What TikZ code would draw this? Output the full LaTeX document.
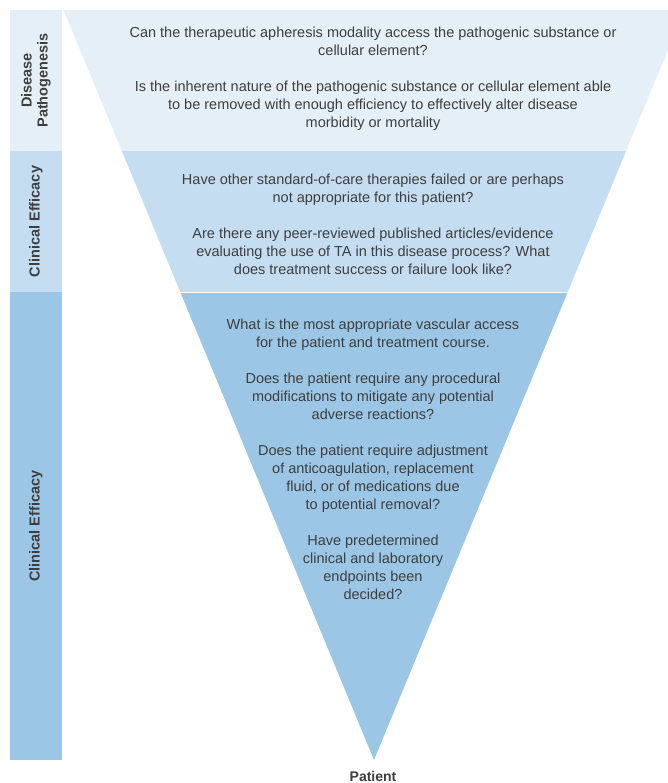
\documentclass[tikz,border=0pt]{standalone}
\usepackage{fontspec}
\setmainfont{Liberation Sans}

\definecolor{bandPathoFill}{RGB}{228,239,248}
\definecolor{bandClinFill}{RGB}{197,221,240}
\definecolor{bandPatientFill}{RGB}{155,198,229}
\definecolor{textGray}{RGB}{62,62,62}

\def \pageW{668}
\def \pageH{783}
\def \barLeft{10}
\def \barRight{62}
\def \barCenterX{36}
\def \topY{10}
\def \bandABottomY{151}
\def \bandBBottomY{292}
\def \apexX{374}
\def \apexY{760}
\def \funnelSlope{0.414}
\def \textCenterX{373}

\tikzset{
  question/.style={font=\fontsize{14.5bp}{18bp}\selectfont, text=textGray, align=center, inner sep=0pt},
  sidelabel/.style={font=\bfseries\fontsize{14.5bp}{16bp}\selectfont, text=textGray, align=center, rotate=90, inner sep=0pt},
  apexlabel/.style={font=\bfseries\fontsize{14bp}{16bp}\selectfont, text=textGray, inner sep=0pt}
}

\begin{document}
\begin{tikzpicture}[x=1bp, y=-1bp]
\clip (0,0) rectangle (\pageW,\pageH);

% ---- Side bar
\fill[bandPathoFill] (\barLeft,\topY) rectangle (\barRight,\bandABottomY);
\fill[bandClinFill] (\barLeft,\bandABottomY) rectangle (\barRight,\bandBBottomY);
\fill[bandPatientFill] (\barLeft,\bandBBottomY) rectangle (\barRight,\apexY);

% ---- Funnel bands
% ---- Disease pathogenesis
\fill[bandPathoFill] ({\apexX-\funnelSlope*(\apexY-\topY)},\topY) -- ({\apexX+\funnelSlope*(\apexY-\topY)},\topY) -- ({\apexX+\funnelSlope*(\apexY-\bandABottomY)},\bandABottomY) -- ({\apexX-\funnelSlope*(\apexY-\bandABottomY)},\bandABottomY) -- cycle;
% ---- Clinical efficacy
\fill[bandClinFill] ({\apexX-\funnelSlope*(\apexY-\bandABottomY)},\bandABottomY) -- ({\apexX+\funnelSlope*(\apexY-\bandABottomY)},\bandABottomY) -- ({\apexX+\funnelSlope*(\apexY-\bandBBottomY)},\bandBBottomY) -- ({\apexX-\funnelSlope*(\apexY-\bandBBottomY)},\bandBBottomY) -- cycle;
% ---- Patient level
\fill[bandPatientFill] ({\apexX-\funnelSlope*(\apexY-\bandBBottomY)},\bandBBottomY) -- ({\apexX+\funnelSlope*(\apexY-\bandBBottomY)},\bandBBottomY) -- (\apexX,\apexY) -- cycle;
\draw[white, line width=0.8bp] ({\apexX-\funnelSlope*(\apexY-\bandBBottomY)},\bandBBottomY) -- ({\apexX+\funnelSlope*(\apexY-\bandBBottomY)},\bandBBottomY);

% ---- Side labels
\node[sidelabel] (pathoLabel) at (\barCenterX,80.5) {Disease\\Pathogenesis};
\node[sidelabel] (clinLabelA) at (\barCenterX,221.5) {Clinical Efficacy};
\node[sidelabel] (clinLabelB) at (\barCenterX,526) {Clinical Efficacy};

% ---- Questions
\node[question] (pathoText) at (\textCenterX,78.5) {Can the therapeutic apheresis modality access the pathogenic substance or\\cellular element?\\[18bp]Is the inherent nature of the pathogenic substance or cellular element able\\to be removed with enough efficiency to effectively alter disease\\morbidity or mortality};
\node[question] (clinText) at (\textCenterX,224.5) {Have other standard-of-care therapies failed or are perhaps\\not appropriate for this patient?\\[18bp]Are there any peer-reviewed published articles/evidence\\evaluating the use of TA in this disease process? What\\does treatment success or failure look like?};
\node[question] (patientText) at (\textCenterX,459) {What is the most appropriate vascular access\\for the patient and treatment course.\\[18bp]Does the patient require any procedural\\modifications to mitigate any potential\\adverse reactions?\\[18bp]Does the patient require adjustment\\of anticoagulation, replacement\\fluid, or of medications due\\to potential removal?\\[18bp]Have predetermined\\clinical and laboratory\\endpoints been\\decided?};

% ---- Apex label
\node[apexlabel, anchor=north] (patientLabel) at (\textCenterX,771) {Patient};
\end{tikzpicture}
\end{document}
